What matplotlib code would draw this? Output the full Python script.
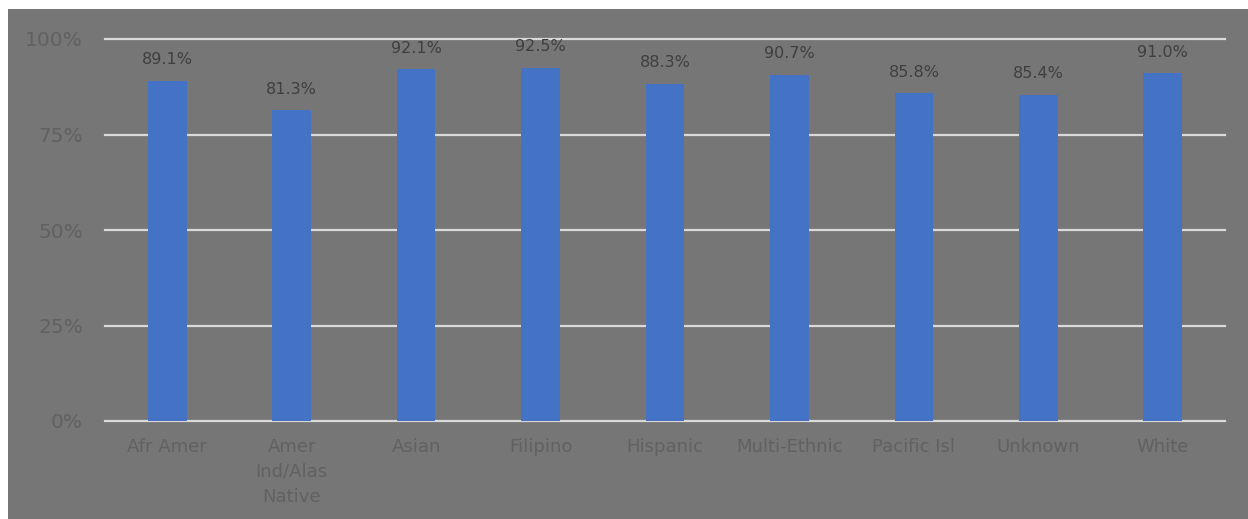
import matplotlib.pyplot as plt
import numpy as np

categories = ["Afr Amer", "Amer\nInd/Alas\nNative", "Asian", "Filipino", "Hispanic",
              "Multi-Ethnic", "Pacific Isl", "Unknown", "White"]
rates = [89.1, 81.3, 92.1, 92.5, 88.3, 90.7, 85.8, 85.4, 91.0]
y_ticks = [0, 25, 50, 75, 100]

W, H = 1248, 519
fig = plt.figure(figsize=(W / 100, H / 100), dpi=100)
fig.patch.set_facecolor("white")

# grey chart area, leaving a thin white strip top and left
bg = fig.add_axes([8 / W, 0, 1 - 8 / W, 1 - 9 / H], zorder=0)
bg.set_facecolor("#767676")
bg.set_xticks([])
bg.set_yticks([])
for s in bg.spines.values():
    s.set_visible(False)

ax = fig.add_axes([105 / W, 98 / H, 1120 / W, 382 / H], zorder=1)
ax.set_facecolor("none")

x = np.arange(len(categories))
ax.bar(x, rates, width=0.31, color="#4472C4", zorder=3)

for xi, v in zip(x, rates):
    ax.text(xi, v + 3.5, f"{v:.1f}%", ha="center", va="bottom",
            fontsize=11.5, color="#3f3f3f")

ax.set_xlim(-0.5, len(categories) - 0.5)
ax.set_ylim(0, 100)
ax.set_yticks(y_ticks)
ax.set_yticklabels([f"{t}%" for t in y_ticks], fontsize=14.5, color="#616161")
ax.set_xticks(x)
ax.set_xticklabels(categories, fontsize=13, color="#616161", linespacing=1.5, va="top")
ax.tick_params(axis="both", length=0)
ax.tick_params(axis="y", pad=16)
ax.tick_params(axis="x", pad=12)

ax.grid(axis="y", color="#d9d9d9", linewidth=1.6, zorder=1)
for gl in ax.get_ygridlines():
    gl.set_clip_on(False)
for s in ax.spines.values():
    s.set_visible(False)

fig.savefig("out.png", dpi=100)
